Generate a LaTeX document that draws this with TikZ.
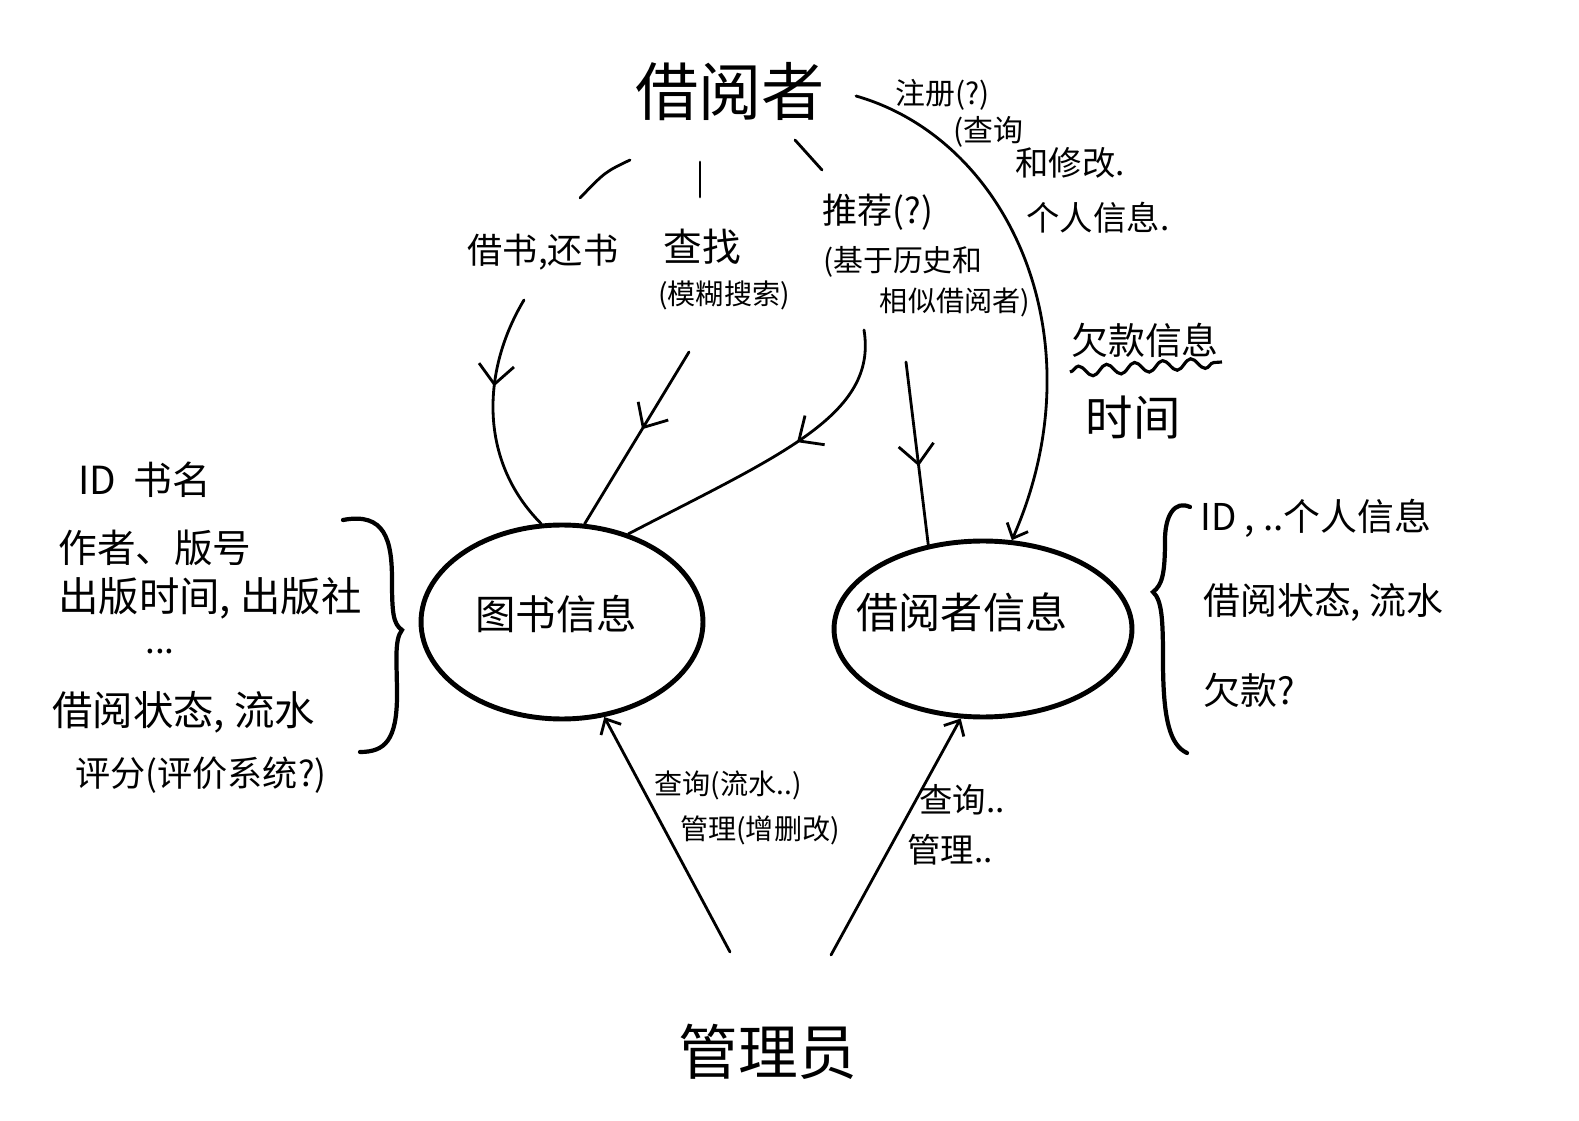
\documentclass[tikz,border=0pt]{standalone}
\usepackage{fontspec}
\newfontfamily\cjk{Noto Sans CJK SC}
\usetikzlibrary{shapes.geometric,arrows.meta,decorations.markings,decorations.pathmorphing}
\begin{document}
\begin{tikzpicture}[x=0.02cm,y=-0.02cm,
  txt/.style={font={\cjk\fontsize{#1}{#1}\selectfont}, inner sep=0pt},
  txt/.default=20,
  conn/.style={line width=1.6pt, line cap=round},
  entity/.style={ellipse, draw, line width=2.8pt, inner sep=0pt},
  brace/.style={line width=2.4pt, line cap=round},
  midarrow/.style={conn, postaction={decorate},
    decoration={markings, mark=at position #1 with {\arrow[line width=1.6pt]{Straight Barb[length=11pt,width=20pt]}}}},
  endarrow/.style={conn, -{Straight Barb[length=7pt,width=13pt]}}
]
\useasboundingbox (0,0) rectangle (1579,1121);

% actors
\node[txt=36] (reader) at (730,92) {借阅者};
\node[txt=34] (admin) at (768,1052) {管理员};

% data stores
\node[entity, minimum width=5.64cm, minimum height=3.88cm] (books) at (562,622) {};
\node[txt=23] at (556,614) {图书信息};
\node[entity, minimum width=5.96cm, minimum height=3.52cm] (readers) at (983,629) {};
\node[txt=24] at (962,612) {借阅者信息};

% branching strokes under the reader
\draw[conn] (630,160) .. controls (605,172) .. (580,198);
\draw[conn] (700,162) -- (700,197);
\draw[conn] (795,140) -- (822,170);

% reader operations
\node[txt=20] (lend) at (543,252) {借书,还书};
\node[txt=22] (find) at (702,247) {查找};
\node[txt=16] (fuzzy) at (724,295) {(模糊搜索)};
\node[txt=20] (rec) at (878,212) {推荐(?)};
\node[txt=17] (rec2) at (903,262) {(基于历史和};
\node[txt=16] (rec3) at (955,302) {相似借阅者)};

\coordinate (s1) at (524,300);
\coordinate (s2) at (689,352);
\coordinate (s3) at (864,330);
\coordinate (s4) at (906,362);
\coordinate (s5) at (856,96);
\coordinate (s6) at (730,952);
\coordinate (s7) at (831,955);

\draw[midarrow=0.38] (s1) .. controls (482,370) and (478,460) .. (books.102);
\draw[midarrow=0.45] (s2) -- (books.77);
\draw[midarrow=0.42] (s3) .. controls (878,415) and (780,455) .. (books.53);
\draw[midarrow=0.57] (s4) -- (readers.123);
\draw[endarrow] (s5) .. controls (1010,140) and (1100,340) .. (readers.72);

% personal info labels
\node[txt=17] at (943,95) {注册(?)};
\node[txt=17] at (988,132) {(查询};
\node[txt=19] at (1070,163) {和修改.};
\node[txt=19] at (1098,218) {个人信息.};
\node[txt=21] (debt) at (1145,340) {欠款信息};
\draw[line width=1.8pt, decorate, decoration={snake, amplitude=3pt, segment length=16pt}]
  (1070,372) -- (1222,362);
\node[txt=27] at (1133,418) {时间};

% administrator operations
\draw[endarrow] (s6) -- (books.-66);
\draw[endarrow] (s7) -- (readers.-104);
\node[txt=16] at (728,785) {查询(流水..)};
\node[txt=16] at (760,830) {管理(增删改)};
\node[txt=19] at (962,800) {查询..};
\node[txt=19] at (950,850) {管理..};

% book attributes
\node[txt=22, anchor=west] at (78,480) {ID\ \ 书名};
\node[txt=22, anchor=west] at (58,548) {作者、版号};
\node[txt=23, anchor=west] at (58,598) {出版时间, 出版社};
\node[txt=20] at (160,652) {...};
\node[txt=23, anchor=west] at (52,712) {借阅状态, 流水};
\node[txt=20, anchor=west] at (75,775) {评分(评价系统?)};
\draw[brace] (343,520) .. controls (385,512) and (392,540) .. (392,580)
  .. controls (392,612) and (393,624) .. (402,630)
  .. controls (394,640) and (397,662) .. (397,695)
  .. controls (397,740) and (385,752) .. (360,752);

% reader attributes
\node[txt=21, anchor=west] at (1200,518) {ID , ..个人信息};
\node[txt=21, anchor=west] at (1203,602) {借阅状态, 流水};
\node[txt=21, anchor=west] at (1203,690) {欠款?};
\draw[brace] (1190,507) .. controls (1175,500) and (1165,515) .. (1165,540)
  .. controls (1165,575) and (1162,585) .. (1153,592)
  .. controls (1162,600) and (1163,620) .. (1163,660)
  .. controls (1163,720) and (1170,745) .. (1187,753);
\end{tikzpicture}
\end{document}
